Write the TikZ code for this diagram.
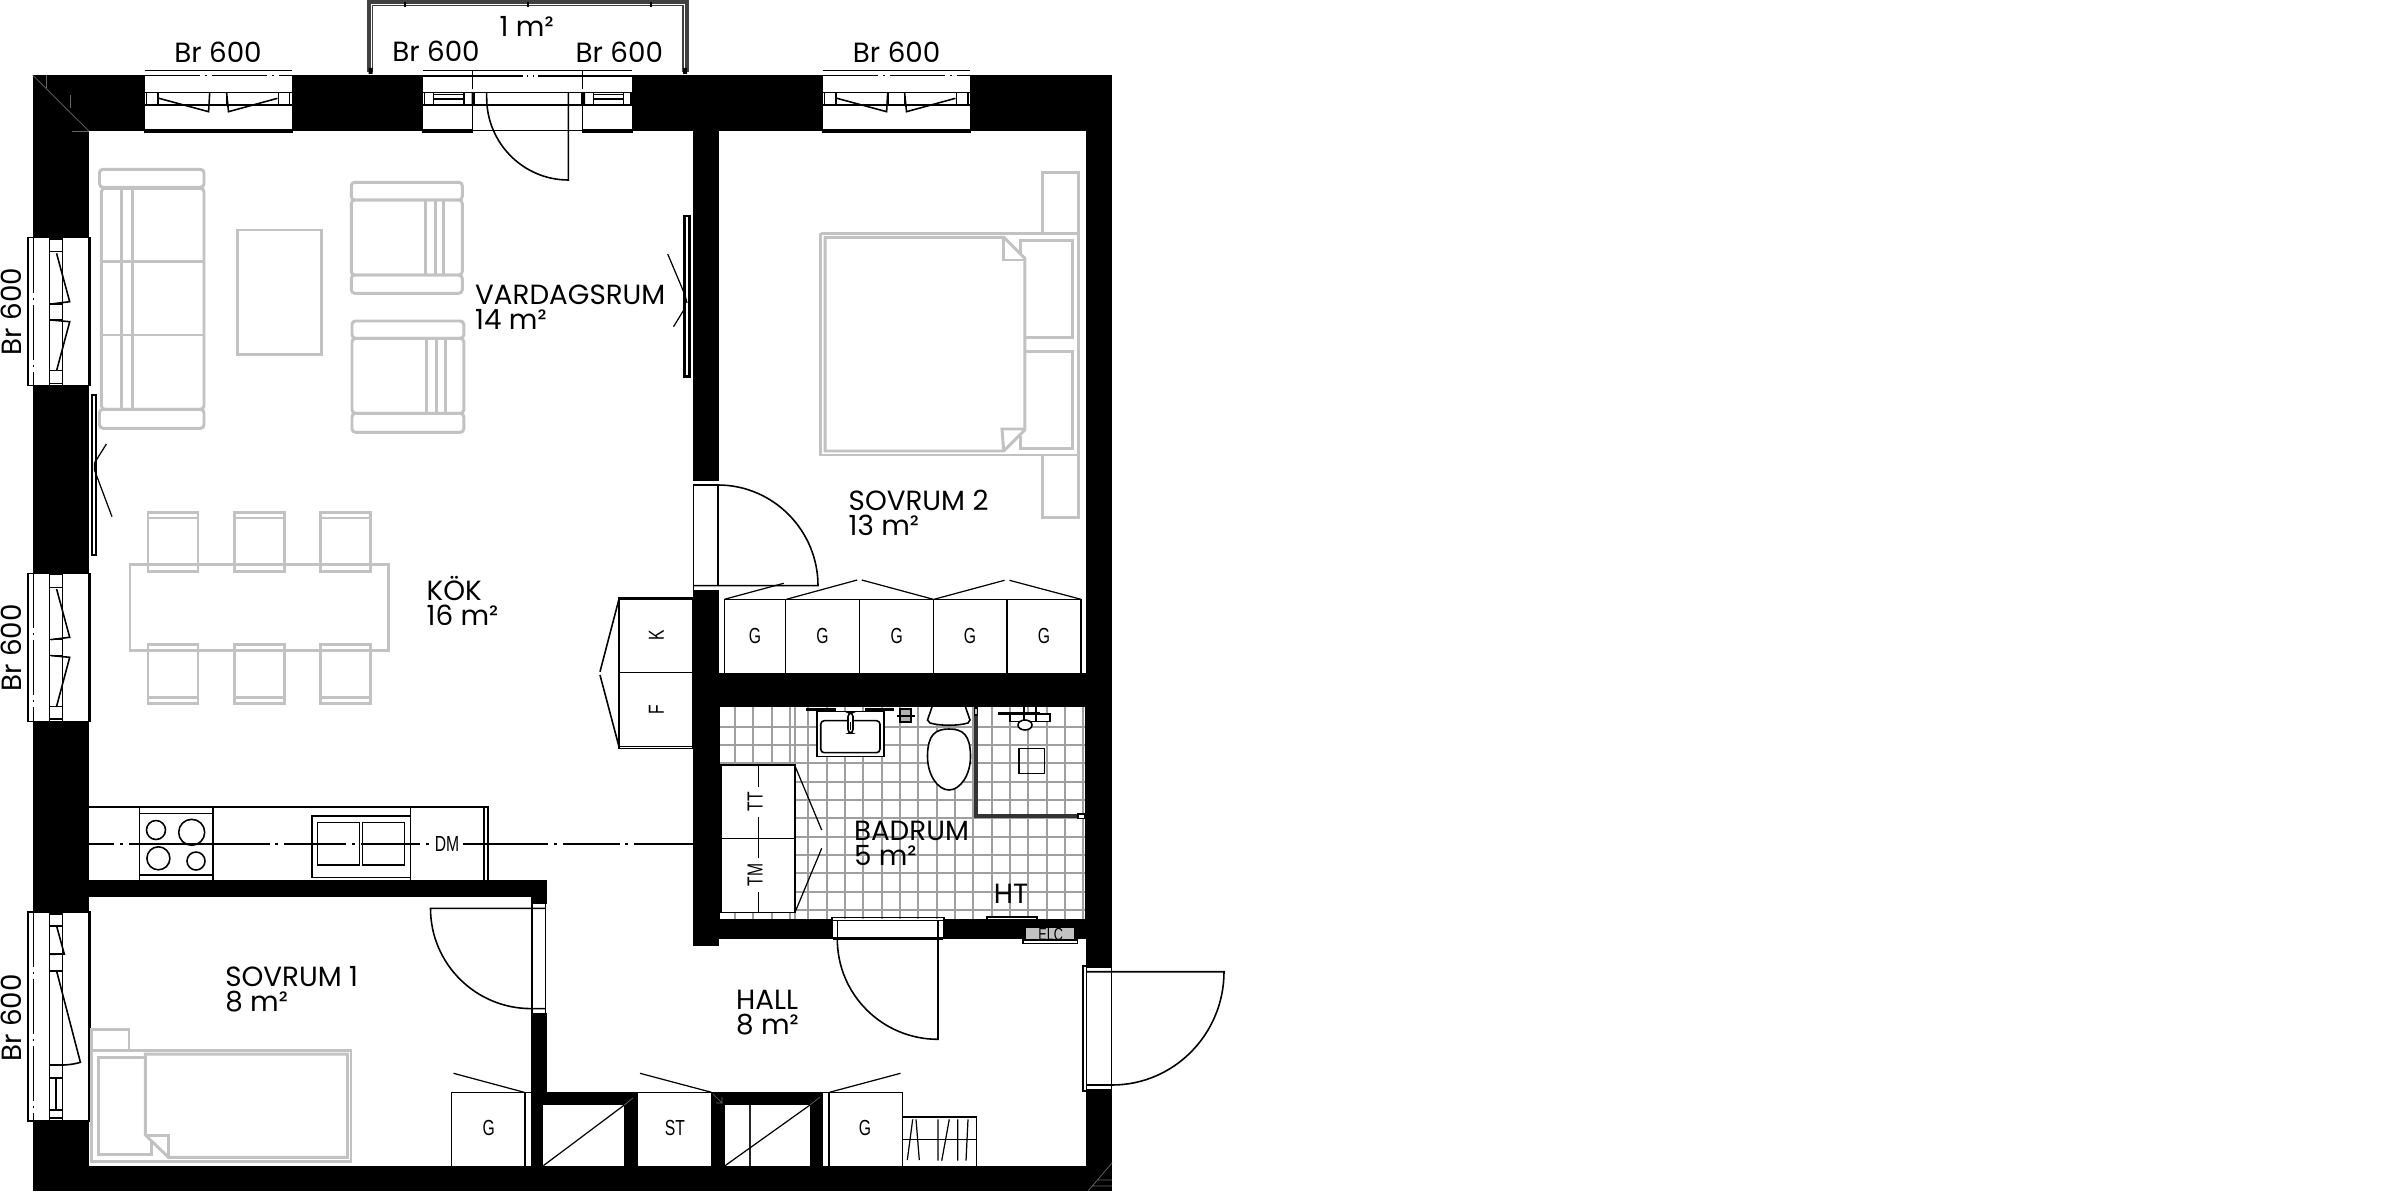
\documentclass[tikz,border=0pt]{standalone}
\usepackage{fontspec}
\usepackage{xcolor}
\setmainfont{Poppins}
\newfontfamily\dinfont[FakeStretch=0.72]{Liberation Sans}
\definecolor{furngray}{HTML}{C2C2C2}
\definecolor{tilegray}{HTML}{9F9F9F}
\usetikzlibrary{positioning}

\tikzset{
    topwin/.pic={
        \fill[white] (0,74) rectangle (147.3,130);
        \draw[plan] (0,70.3) -- (147.3,70.3);
        \draw[plan,dash pattern=on 0.55cm off 0.05cm on 0.02cm off 0.05cm] (0,75.7) -- (147.3,75.7);
        \draw[plan] (0,92.7) -- (147.3,92.7) (0,105) -- (147.3,105);
        \draw[plan] (0,130) rectangle (147.3,132);
        \foreach \px in {1.9,13.4,65,81.9,133.6,145}
            \draw[plan] (\px,92.7) -- (\px,105);
        \draw[plan] (14.2,98.3) -- (63.9,111.7) -- (65,92.7);
        \draw[plan] (132.8,98.3) -- (83.8,111.7) -- (81.9,92.7);
    },
    sidewin/.pic={
        \fill[white] (30,0) rectangle (88.8,148);
        \draw[plan] (28,0) rectangle (90.3,148);
        \draw[plan] (88.8,0) -- (88.8,148);
        \draw[plan,dash pattern=on 0.55cm off 0.05cm on 0.02cm off 0.05cm] (33.3,0) -- (33.3,148);
        \draw[plan] (49.5,0) -- (49.5,148) (62.4,0) -- (62.4,148);
        \foreach \py in {1.3,14,66.3,82.3,133,145.7}
            \draw[plan] (49.5,\py) -- (62.4,\py);
        \draw[plan] (56.6,15.7) -- (69.7,64) -- (50.9,66.3);
        \draw[plan] (50.9,82.3) -- (69.7,84) -- (56.6,133);
    }
}

\begin{document}
\begin{tikzpicture}[x=0.1mm, y=-0.1mm,
    plan/.style={draw=black, line width=0.45pt},
    thinline/.style={draw=black, line width=0.35pt},
    furn/.style={draw=furngray, line width=0.85pt},
    tile/.style={draw=tilegray, line width=0.55pt},
    seam/.style={draw=black!60!white, line width=0.2pt},
    room/.style={font=\fontsize{7.9}{7.1}\selectfont, align=left, anchor=west, inner sep=0pt},
    winlabel/.style={font=\fontsize{7.9}{7.1}\selectfont, inner sep=0pt},
    fixture/.style={font=\dinfont\fontsize{6.2}{6.2}\selectfont, inner sep=0pt}
]
\useasboundingbox (0,0) rectangle (2400,1200);

% ===== FLOOR: tiles first, walls on top =====
\begin{scope}
\clip (719,706.7) rectangle (1085.7,919.3);
\foreach \i in {0,...,19}
    \draw[tile] ({735+18.33*\i},700) -- ++(0,225);
\foreach \i in {0,...,10}
    \draw[tile] (715,{726.7+18.33*\i}) -- ++(375,0);
\end{scope}
\draw[plan] (719,706.7) rectangle (1085.7,919.3);
\draw[tile] (795,706.7) -- (795,919.3);

% ===== WALLS =====
\fill (32.5,75) rectangle (1112,131);
\fill (32.5,75) rectangle (88.8,1191);
\fill (1086,75) rectangle (1112,1191);
\fill (32.5,1165.7) rectangle (1112,1191);
\fill (693,131) rectangle (718.6,945.7);
\fill (693,672.7) rectangle (1112,706.7);
\fill (719,919) rectangle (1086,939.3);
\fill (88.8,880) rectangle (546.5,896.7);
\fill (531,880) rectangle (546.5,1092.3);
\fill (530.7,1092) rectangle (543.3,1166);
\fill (543,1092.3) rectangle (638.3,1105);
\fill (624.3,1092.3) rectangle (638.3,1166);
\fill (711,1092.3) rectangle (725,1166);
\fill (725,1092.3) rectangle (823.3,1105);
\fill (810,1092.3) rectangle (823.3,1166);

% corner seams
\draw[seam] (32.5,75) -- (88.8,131);
\draw[seam] (46,88) -- (46,75) (70,108) -- (70,95) (88.8,131) -- (72,131);
\draw[seam] (1112,1163) -- (1088,1191) (1098,1180) -- (1112,1180) (1092,1186) -- (1112,1186);

% ===== BALCONY =====
\draw[line width=0.45pt, draw=black!75] (368,72) -- (368,1) -- (687.7,1) -- (687.7,72);
\draw[line width=0.45pt, draw=black!75] (370,72) -- (370,3) -- (685.7,3) -- (685.7,72);
\draw[line width=0.45pt, draw=black!75] (372.5,72) -- (372.5,5.5) -- (683.2,5.5) -- (683.2,72);
\foreach \px in {405,527.7,650.7}
    \fill (\px-1,2) rectangle (\px+1,7);
\fill (368.5,68) rectangle (372.5,74) (683,68) rectangle (687,74);

% ===== WINDOWS =====
\pic at (144.7,0) {topwin};
\pic at (822.7,0) {topwin};
\pic at (0,237.7) {sidewin};
\pic at (0,573.3) {sidewin};

% Sovrum 1 window
\fill[white] (30,911.7) rectangle (88.8,1121);
\draw[plan] (28,911.7) rectangle (90.3,1121);
\draw[plan] (88.8,911.7) -- (88.8,1121);
\draw[plan,dash pattern=on 0.55cm off 0.05cm on 0.02cm off 0.05cm] (33.3,911.7) -- (33.3,1121);
\draw[plan] (49.5,911.7) -- (49.5,1121) (62.4,911.7) -- (62.4,1121);
\foreach \py in {914,926,954,971,1065,1077.7,1110,1118}
    \draw[plan] (49.5,\py) -- (62.4,\py);
\draw[plan] (56,1077.7) -- (56,1110);
\draw[plan] (56.6,926) -- (64.3,954) -- (50.9,954.3);
\draw[plan] (56.6,971) -- (80.4,1062.3) .. controls (72,1065) and (60,1065.5) .. (50.9,1065);

% Balcony door with side lights
\fill[white] (423,74) rectangle (632.3,130);
\draw[plan] (423,70.3) -- (632.3,70.3);
\draw[plan] (423,76) -- (523,76) (527,76) -- (528,76) (533,76) -- (534,76) (538,76) -- (632.3,76);
\draw[plan] (423,92.7) -- (632.3,92.7) (423,105) -- (632.3,105);
\draw[plan] (423,130) rectangle (472.3,132) (582.3,130) rectangle (632.3,132);
\draw[plan] (472.3,70.3) -- (472.3,89) (472.3,92.7) -- (472.3,132);
\draw[plan] (582.3,70.3) -- (582.3,89) (582.3,92.7) -- (582.3,132);
\foreach \px in {424.3,433.3,464,474.7,581.7,593.3,623.3,630.7}
    \draw[plan] (\px,92.7) -- (\px,105);
\draw[plan] (433.3,94.3) -- (464,94.3) (433.3,99) -- (464,99);
\draw[plan] (593.3,94.3) -- (623.3,94.3) (593.3,99) -- (623.3,99);
\fill (471.7,92.7) rectangle (474.7,105) (582.3,92.7) rectangle (585,105);
\draw[plan] (568.3,92.7) -- (568.3,180) .. controls (523.3,180) and (486.7,143) .. (486.7,98) -- (486.7,92.7);

% ===== DOORS =====
% Sovrum 2
\fill[white] (693,481) rectangle (718.6,590);
\draw[plan] (693.5,485) -- (693.5,590) (718,485) -- (718,586);
\draw[plan] (693,485) -- (718,485) .. controls (773.2,485) and (818,530.5) .. (818,585.7) -- (693,585.7);
% Sovrum 1
\fill[white] (531,904) rectangle (546.5,1013);
\draw[plan] (532,904) -- (532,1013) (545.5,904) -- (545.5,1013);
\draw[plan] (545.5,908.3) -- (430.5,908.3) .. controls (430.5,963.7) and (475.6,1008.6) .. (531,1008.6) -- (545.5,1008.6);
% Badrum
\fill[white] (833,919) rectangle (943,938);
\draw[plan] (831.7,917.3) rectangle (944,920.5);
\draw[line width=0.7pt] (833,938.7) -- (943,938.7);
\draw[plan] (837.3,939) .. controls (837.3,994.6) and (882.4,1039.3) .. (938,1039.3) -- (938,921);
\draw[plan] (837.3,921) -- (837.3,939);
% Entrance
\fill[white] (1086,968) rectangle (1112,1089);
\draw[plan] (1083,966) rectangle (1086.5,1091);
\draw[plan] (1111.5,968) -- (1111.5,1089);
\draw[plan] (1086,971.7) -- (1224,971.7) .. controls (1224,1034) and (1174,1085) .. (1112,1085) -- (1086,1085);

% Wardrobe doors in the two long walls
\fill[white] (685,218) rectangle (689.5,375);
\draw[line width=0.8pt] (684.5,216) rectangle (689.5,376.7);
\draw[thinline] (667.7,254) -- (685,295) -- (687,303) (673.5,326.7) -- (685,308);
\fill[white] (92.5,397) rectangle (95.5,553);
\draw[line width=0.8pt] (92,395) rectangle (96,555);
\draw[thinline] (106.4,444) -- (94.5,463) -- (94.5,470) -- (112,516.7);

% ===== CENTRE LINE =====
\foreach \ax/\bx in {89/114,120/123,129/270,275/278,284/346,352/355,361/420,426/429,435/548,554/557,563/620,625/628,634/693}
    \draw[thinline] (\ax,844) -- (\bx,844);

% ===== KITCHEN =====
\draw[plan] (89,806.7) -- (488,806.7) -- (488,880);
\draw[plan] (484,806.7) -- (484,880);
\draw[plan] (139.7,806.7) -- (139.7,880) (213.2,806.7) -- (213.2,880);
\draw[plan] (139.7,813.3) rectangle (213.2,875);
\draw[plan] (156,830) circle (9.5) (191.7,832.3) circle (13) (158.4,858.3) circle (11.5) (196,861) circle (9);
\draw[plan] (311.9,815.7) rectangle (410.3,877.3);
\draw[plan] (317.6,822.3) rectangle (359.7,865) (362.4,822.3) rectangle (404.5,865);
\draw[plan] (410.3,806.7) -- (410.3,880);
\node[fixture, fill=white, inner xsep=1pt, inner ysep=0.5pt] (dm) at (447,844) {DM};

% K and F
\draw[plan] (619,597.3) rectangle (693,748.3);
\draw[plan] (619,599) -- (693,599) (619,746.7) -- (693,746.7) (619,672.7) -- (693,672.7);
\draw[plan] (619,599) -- (600,671.7) (600,675) -- (619,746.7);
\node[fixture, rotate=90] (kyl) at (656.3,635) {K};
\node[fixture, rotate=90] (frys) at (656.3,709.3) {F};

% ===== CLOSETS =====
\foreach \ax/\bx in {724.4/785.6,785.6/859.5,859.5/933.3,933.3/1007.2,1007.2/1081}
    \draw[plan] (\ax,672.7) -- (\ax,599.3) -- (\bx,599.3) -- (\bx,672.7);
\draw[thinline] (724.4,599.3) -- (783.7,583.3);
\draw[thinline] (786.4,599.3) -- (857.2,580) (861.8,580) -- (933.3,599.3);
\draw[thinline] (934,599.3) -- (1004.5,580.3) (1009.5,580.3) -- (1081,599.3);
\foreach \cx/\cname in {755/ga,822.4/gb,896.6/gc,970/gd,1044/ge}
    \node[fixture] (\cname) at (\cx,636) {G};

\draw[plan] (451.6,1165.7) -- (451.6,1092.5) -- (530.8,1092.5);
\draw[plan] (525,1092.5) -- (525,1165.7);
\draw[thinline] (453.5,1073.3) -- (524.3,1092.3);
\node[fixture] (gbed) at (488.7,1128.3) {G};

\draw[plan] (711,1092.3) -- (638.3,1092.3);
\draw[thinline] (640,1073.3) -- (711.5,1092.3);
\node[fixture] (st) at (675,1128) {ST};

\draw[plan] (829,1165.7) -- (829,1092.3) -- (902.3,1092.3) -- (902.3,1165.7);
\draw[plan] (823.3,1092.3) -- (829,1092.3);
\draw[thinline] (829.4,1092.3) -- (900.5,1073.3);
\node[fixture] (ghall) at (865,1128) {G};

% shoe rack
\draw[plan] (902.3,1116.7) -- (976.3,1116.7) -- (976.3,1165.7) (902.3,1139.3) -- (976.3,1139.3);
\draw[thinline] (907.3,1160) -- (912.7,1119.3) (916,1119.3) -- (919.3,1160);
\draw[thinline] (938,1119.3) -- (938,1160.7) (949.3,1119.3) -- (941.7,1160.7);
\draw[thinline] (957.7,1119.3) -- (957.7,1160.7) (968,1119.3) -- (966,1160.7);

% Shafts
\fill[white] (725,1105) rectangle (810,1165.7);
\draw[line width=0.8pt, draw=black!85] (750,1105) -- (750,1165.7);
\draw[thinline] (543.3,1165.7) -- (624.3,1105);
\draw[thinline] (725,1165.7) -- (810,1105);
\draw[seam] (713,1094) -- (722,1103) -- (722,1097) (722,1103) -- (716,1103);
\draw[seam] (624.3,1105) -- (633,1098) (810,1105) -- (820,1097);

% ===== BATHROOM =====
\draw[plan, fill=white] (721,765) rectangle (795,912.3);
\draw[plan] (721,838.3) -- (795,838.3);
\draw[plan] (758.3,765) -- (758.3,912.3);
\node[fixture, fill=white, rotate=90, inner xsep=1.5pt] (tt) at (755,801.7) {TT};
\node[fixture, fill=white, rotate=90, inner xsep=1.5pt] (tm) at (755,875) {TM};
\draw[thinline] (795,766) -- (821.7,830) (795,912.3) -- (821.7,848.3);

% basin
\draw[line width=0.8pt] (806,709.3) -- (836,709.3) (865,709.3) -- (894,709.3);
\draw[plan, fill=white] (816.7,711.7) rectangle (884,756.7);
\draw[plan, rounded corners=1pt] (820.7,720.7) rectangle (880,752.7);
\draw[plan, fill=white, rounded corners=1pt] (848,713) rectangle (853,733);
\draw[plan] (850.5,722) -- (850.5,730);
\draw[plan, fill=black!30] (900,709) rectangle (911,722);
\draw[thinline] (897,716) -- (915,716);

% toilet
\draw[plan, fill=white] (932,707) -- (927.5,720) -- (930,723) .. controls (940,726) and (958,726) .. (968,723) -- (970,720) -- (965.5,707);
\draw[plan, fill=white] (949,729) .. controls (935,729) and (928,735) .. (927.5,755) .. controls (927,775) and (938,790) .. (949,790) .. controls (960,790) and (971,775) .. (970.5,755) .. controls (970,735) and (963,729) .. (949,729);

% shower
\draw[line width=1pt, draw=black!80] (976,706.7) -- (976,816) -- (1078,816);
\draw[plan, fill=white] (1077.7,814) rectangle (1085,818.5);
\draw[plan, fill=black!25] (974.5,708) rectangle (977.5,715);
\draw[line width=0.7pt] (997.7,713.3) -- (1040,713.3);
\draw[plan, fill=white] (1010,714) rectangle (1050,721.7);
\draw[plan] (1024,707) -- (1024,721) (1036,707) -- (1036,721);
\draw[plan, fill=white] (1025,725) ellipse (7 and 5);
\draw[plan] (1019,748.3) rectangle (1044.3,773.3);

\node[font=\fontsize{7.9}{7.1}\selectfont, inner sep=0pt] (ht) at (1011,894) {HT};
\draw[plan, fill=white] (986.7,916.7) rectangle (1036.7,919.3);

% ELC
\fill[furngray] (1026,928.3) rectangle (1074,940);
\draw[plan, fill=white] (1022.7,940) rectangle (1077.3,943.3);
\node[fixture, font=\dinfont\fontsize{5}{5}\selectfont] (elc) at (1050.7,934) {ELC};

% ===== FURNITURE =====
% sofa
\draw[furn, rounded corners=1pt] (99.5,169.3) rectangle (204,187.3);
\draw[furn, rounded corners=1pt] (99.5,409.3) rectangle (204,428.3);
\draw[furn, rounded corners=1pt] (101.4,188.3) rectangle (204,409.3);
\draw[furn] (101.4,261.7) -- (204,261.7) (101.4,335) -- (204,335);
\draw[furn] (121.7,188.3) -- (121.7,409.3) (132.8,188.3) -- (132.8,409.3);
% low table
\draw[furn] (237.3,230) rectangle (321.5,354.3);
% armchairs
\draw[furn, rounded corners=1pt] (351.3,182.3) rectangle (462.3,200);
\draw[furn, rounded corners=1pt] (351.3,200) rectangle (462.3,275);
\draw[furn, rounded corners=1pt] (351.3,275) rectangle (462.3,293.3);
\draw[furn] (425.6,200) -- (425.6,275) (435,200) -- (435,275) (443.2,200) -- (443.2,275);
\draw[furn, rounded corners=1pt] (352,321) rectangle (463.8,338.3);
\draw[furn, rounded corners=1pt] (352,338.3) rectangle (463.8,413.3);
\draw[furn, rounded corners=1pt] (352,413.3) rectangle (463.8,432.3);
\draw[furn] (426.7,338.3) -- (426.7,413.3) (436.3,338.3) -- (436.3,413.3) (445.8,338.3) -- (445.8,413.3);
% dining table
\draw[furn] (130,564.3) rectangle (388.4,650.7);
\foreach \cx in {148,234.2,320.3} {
    \draw[furn] (\cx,512.3) rectangle (\cx+50,571.7);
    \draw[furn] (\cx,518) -- (\cx+50,518);
    \draw[furn] (\cx,644.3) rectangle (\cx+50,703.3);
    \draw[furn] (\cx,697) -- (\cx+50,697);
}
% bed in Sovrum 2
\draw[furn] (820.8,233.3) -- (1078.4,233.3) (820.8,233.3) -- (820.8,455) -- (1078.4,455);
\draw[furn] (1078.4,172.3) -- (1078.4,517.3);
\draw[furn] (825,451) -- (825,237.3) -- (1003.7,237.3) -- (1024.8,258.3) -- (1024.8,430) -- (1003.7,451) -- cycle;
\draw[furn] (1003.7,237.3) -- (1003.7,260) -- (1024.8,260);
\draw[furn] (1003.7,451) -- (1002,429) -- (1024.8,429);
\draw[furn] (1024.8,337.3) -- (1072.6,337.3) -- (1072.6,240.7) -- (1020.2,240.7) -- (1020.2,254);
\draw[furn] (1024.8,351.7) -- (1072.6,351.7) -- (1072.6,448.3) -- (1020.2,448.3) -- (1020.2,436);
\draw[furn] (1042,233.3) -- (1042,172.3) -- (1079.5,172.3);
\draw[furn] (1042,456) -- (1042,517.3) -- (1079.5,517.3);
% bed in Sovrum 1
\draw[furn] (91.8,1049.3) -- (91.8,1029) -- (129,1029) -- (129,1049.3);
\draw[furn] (91.8,1050) rectangle (351,1161);
\draw[furn] (145.4,1135) -- (145.4,1054) -- (347.5,1054) -- (347.5,1157.3) -- (168.4,1157.3) -- cycle;
\draw[furn] (145.4,1135) -- (168.4,1135) -- (168.4,1157.3);
\draw[furn] (145.4,1057.3) -- (98.7,1057.3) -- (98.7,1154) -- (151.2,1154) -- (151.2,1140);

% ===== TEXTS =====
\node[winlabel] (brtop) at (218,52.7) {Br 600};
\node[winlabel] (brdoorl) at (436,51.7) {Br 600};
\node[winlabel] (brdoorr) at (619.3,52.7) {Br 600};
\node[winlabel] (brbed) at (896.6,52.7) {Br 600};
\node[winlabel, rotate=90] (brlefta) at (11.5,311.7) {Br 600};
\node[winlabel, rotate=90] (brleftb) at (11.5,648) {Br 600};
\node[winlabel, rotate=90] (brleftc) at (11.5,1018) {Br 600};
\node[winlabel] (balcony) at (526.7,26) {1 m²};

\node[room] (vardagsrum) at (474.5,307.5) {VARDAGSRUM\\14 m²};
\node[room] (kok) at (426,601) {KÖK\\16 m²};
\node[room] (sovrumb) at (848,513) {SOVRUM 2\\13 m²};
\node[room] (sovruma) at (224.6,989) {SOVRUM 1\\8 m²};
\node[room] (hall) at (735.5,1013) {HALL\\8 m²};
\node[room] (badrum) at (853.3,843) {BADRUM\\5 m²};

\end{tikzpicture}
\end{document}
